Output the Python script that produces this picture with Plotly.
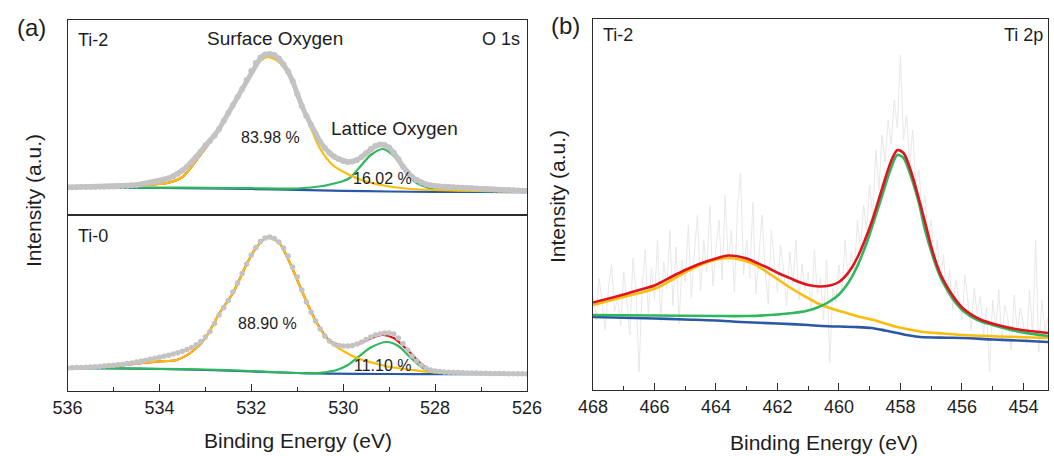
import plotly.graph_objects as go

# ---------------- Panel (a): O 1s ----------------
ENERGY_A = [round(536.0 - 0.1 * i, 1) for i in range(101)]

# Ti-2 raw data (a.u.)
RAW_TI2 = [27.7, 27.8, 27.8, 27.9, 28.0, 28.0, 28.1, 28.2, 28.3, 28.4,
           28.5, 28.7, 29.0, 29.3, 29.7, 30.1, 30.8, 31.6, 32.4, 33.2,
           34.0, 35.2, 36.8, 38.8, 41.3, 44.5, 48.3, 52.8, 57.8, 63.5,
           69.5, 74.0, 79.5, 86.0, 94.0, 102.0, 110.0, 118.0, 126.0, 135.0,
           144.0, 152.0, 157.5, 160.5, 161.0, 160.0, 156.5, 150.5, 143.5, 134.0,
           121.0, 109.0, 99.0, 90.0, 81.0, 73.0, 67.0, 62.0, 58.5, 56.0,
           54.0, 53.0, 53.5, 55.0, 58.0, 62.0, 66.0, 69.0, 70.5, 70.0,
           67.5, 62.5, 56.0, 48.5, 42.5, 38.0, 35.0, 32.5, 30.8, 29.8,
           29.0, 28.5, 28.2, 28.0, 27.8, 27.6, 27.3, 27.0, 26.7, 26.4,
           26.1, 25.9, 25.7, 25.5, 25.3, 25.1, 24.9, 24.7, 24.5, 24.3,
           24.1]

# Ti-0 raw data (a.u.)
RAW_TI0 = [23.0, 23.2, 23.4, 23.6, 23.8, 24.0, 24.3, 24.6, 25.0, 25.4,
           25.8, 26.3, 26.8, 27.4, 28.1, 28.9, 29.8, 30.8, 31.8, 32.8,
           33.8, 34.8, 35.8, 36.9, 38.2, 39.7, 41.5, 43.6, 46.2, 49.5,
           54.0, 59.5, 67.5, 76.0, 83.5, 90.5, 99.0, 108.0, 117.5, 127.0,
           136.0, 143.5, 149.5, 153.0, 154.0, 152.5, 149.0, 143.0, 135.0, 124.0,
           114.0, 101.0, 89.0, 79.0, 70.0, 62.0, 55.0, 50.0, 47.0, 45.5,
           45.0, 45.0, 45.5, 47.0, 49.0, 51.5, 54.0, 56.0, 57.0, 58.0,
           58.0, 57.0, 53.0, 47.5, 41.0, 35.0, 30.0, 26.0, 23.0, 21.0,
           20.0, 19.4, 19.0, 18.8, 18.6, 18.4, 18.2, 18.1, 18.0, 17.9,
           17.8, 17.7, 17.6, 17.5, 17.4, 17.4, 17.3, 17.3, 17.2, 17.2,
           17.1]

# Ti-2 fit curves
TI2_ENV_E = [536, 535, 534.5, 534, 533.78, 533.5, 533.06, 532.75, 532.5, 532.25, 532, 531.8,
             531.64, 531.4, 531.16, 531, 530.73, 530.5, 530.23, 530, 529.86, 529.6, 529.4,
             529.14, 528.9, 528.61, 528.4, 528.2, 528, 527.5, 527, 526]
TI2_ENV = [27.5, 28.0, 29.0, 31.0, 32.5, 38.0, 63.0, 82.0, 101, 120, 142, 155,
           159.5, 155, 139, 120, 92, 72, 58, 53.5, 52.5, 57, 64.5,
           70.5, 62, 43, 34.5, 31.5, 29.8, 28.5, 27, 25]
TI2_SURF_E = [536, 535, 534.5, 534, 533.78, 533.5, 533.06, 532.75, 532.5, 532.25, 532, 531.8,
              531.64, 531.4, 531.16, 531, 530.73, 530.51, 530.23, 529.86, 529.5, 529, 528.5,
              528, 527, 526]
TI2_SURF = [27.5, 28, 29, 31, 32.5, 38, 63, 82, 101, 120, 142, 154,
            158, 153, 137, 118, 90, 67, 50, 40, 33.5, 28.5, 26,
            25, 24, 23.5]
TI2_LATT_E = [536, 535, 534, 533, 532, 531, 530.44, 530.2, 530, 529.86, 529.6, 529.4, 529.14,
              528.9, 528.61, 528.4, 528.2, 528, 527.5, 527, 526]
TI2_LATT = [27.5, 27.5, 27.4, 27.2, 26.8, 26.5, 29, 31.5, 34, 37, 50, 60, 66,
            59, 41, 32, 28, 26, 24.5, 23.8, 23.2]
TI2_BG_E = [536, 535, 534, 533, 532, 531, 530, 529, 528, 527, 526]
TI2_BG = [27.3, 27.2, 27.0, 26.6, 26.0, 25.2, 24.2, 23.5, 23.1, 23.0, 22.9]

# Ti-0 fit curves
TI0_ENV_E = [536, 535, 534.37, 534, 533.63, 533.27, 533, 532.69, 532.4, 532.1, 531.9, 531.66,
             531.4, 531.16, 530.88, 530.58, 530.29, 530.1, 529.92, 529.7, 529.4, 529.16, 528.9,
             528.6, 528.3, 528.1, 527.8, 527, 526]
TI0_ENV = [23, 24.5, 28.0, 29.6, 31.0, 40.0, 53.0, 78, 98, 127, 143, 153.5,
           148.5, 128, 98, 68.5, 50, 46.5, 45, 46.5, 52.5, 56, 53,
           41, 27, 21, 18.5, 17.5, 17]
TI0_SURF_E = [536, 535, 534.37, 534, 533.63, 533.27, 533, 532.69, 532.4, 532.1, 531.9, 531.66,
              531.4, 531.16, 530.88, 530.58, 530.29, 530, 529.7, 529.3, 528.98, 528.5, 528.11,
              527.5, 526]
TI0_SURF = [23, 24.5, 28, 29.6, 31, 40, 53, 78, 98, 127, 143, 153.5,
            148.5, 128, 98, 68, 49, 40, 33, 27.5, 24, 21, 19,
            17.8, 17]
TI0_LATT_E = [536, 535, 534, 533, 532, 531.5, 531, 530.6, 530.3, 530.14, 529.9, 529.7, 529.4,
              529.05, 528.8, 528.55, 528.3, 528.11, 527.8, 527, 526]
TI0_LATT = [23, 22.8, 22.2, 21.5, 20, 18.8, 18, 17.8, 19.5, 21, 26, 33, 43.5,
            49, 45, 34, 24, 19, 17.6, 17.1, 16.9]
TI0_BG_E = [536, 535, 534, 533, 532, 531, 530.3, 529, 528, 526]
TI0_BG = [22.8, 22.5, 22.0, 21.0, 19.5, 18.0, 17.3, 17.0, 16.9, 16.8]

# ---------------- Panel (b): Ti 2p ----------------
ENERGY_B = [round(468.0 - 0.1 * i, 1) for i in range(149)]
RAW_TI2P = [95, 70, 112, 84, 60, 101, 126, 78, 92, 64,
            118, 89, 55, 132, 97, 18, 104, 140, 76, 122,
            90, 150, 68, 128, 101, 160, 84, 143, 66, 130,
            108, 165, 92, 138, 175, 99, 150, 118, 185, 104,
            142, 170, 110, 195, 128, 160, 98, 182, 217, 115,
            150, 112, 188, 96, 140, 175, 120, 86, 160, 132,
            98, 145, 120, 84, 138, 106, 150, 90, 126, 100,
            118, 80, 140, 96, 112, 70, 130, 27, 102, 88,
            125, 96, 150, 110, 138, 118, 170, 140, 185, 160,
            205, 172, 240, 200, 255, 228, 270, 246, 290, 262,
            335, 250, 275, 225, 260, 205, 220, 180, 195, 150,
            170, 125, 150, 108, 135, 95, 120, 80, 110, 92,
            70, 115, 88, 60, 102, 76, 94, 55, 83, 18,
            90, 62, 100, 48, 85, 70, 40, 95, 58, 82,
            66, 45, 100, 55, 150, 38, 90, 60, 72]

TI2P_ENV_E = [468, 467, 466.5, 466, 465.4, 465, 464.5, 464, 463.6, 463, 462.7, 462.3, 461.95,
              461.6, 461.3, 461.0, 460.65, 460.3, 460, 459.8, 459.6, 459.4, 459.2, 458.94,
              458.65, 458.49, 458.3, 458.1, 457.9, 457.64, 457.4, 457.16, 456.95, 456.7, 456.4,
              455.96, 455.4, 454.9, 454.34, 453.8, 453.2]
TI2P_ENV = [87.5, 95.5, 100, 104.5, 114, 120, 126.5, 131.5, 134.5, 131.5, 127.5, 122, 116.5,
            112, 108, 105, 103.5, 104.5, 108, 113.5, 121.5, 132.5, 146.5, 167.5,
            196, 212, 229, 240, 237, 217, 191, 163, 138, 116, 99,
            81.5, 70.5, 65.5, 61.5, 59, 57]
TI2P_32_E = [468, 467, 465.93, 464.86, 464.2, 463.63, 463.1, 462.7, 462.2, 461.62, 461.1, 460.65,
             460.2, 459.75, 459.3, 458.87, 458.5, 458.1, 457.7, 457.25, 456.6, 455.96, 455, 454,
             453.2]
TI2P_32 = [85, 93, 102, 120, 128.5, 132, 129.5, 125, 115, 103, 93.5, 86,
           81, 77, 73, 70, 66.5, 63, 60.5, 58, 56.5, 55, 53.8, 52.8,
           52]
TI2P_12_E = [468, 466, 464, 463, 462, 461.5, 461.07, 460.7, 460.33, 460, 459.7, 459.4, 459.1,
             458.85, 458.6, 458.35, 458.1, 457.9, 457.64, 457.4, 457.2, 456.95, 456.7, 456.4,
             456.2, 455.96, 455.5, 455, 454.6, 454, 453.2]
TI2P_12 = [75, 74.5, 74, 74, 75.5, 77, 79, 82.5, 88, 95.5, 107, 124, 147,
           170, 194, 218, 235, 232, 212, 187, 160, 134, 113, 96,
           87, 79, 70, 65, 61.5, 57.5, 54]
TI2P_BG_E = [468, 466, 465, 464, 463.2, 462, 461, 460.56, 459.5, 458.94, 458.5, 458.1, 457.7,
             457.35, 456.5, 455.96, 455, 454, 453.2]
TI2P_BG = [73, 71.5, 70.5, 69.5, 68, 66.5, 65, 64, 63, 62, 59.5, 57, 54.5,
           53, 52.3, 52, 50.5, 49.2, 48]

# ---------------- styles ----------------
RED = "#e0141c"
YELLOW = "#fbbd0c"
GREEN = "#30b75e"
BLUE = "#2a58a6"
GRAY = "#c3c3c3"
NOISE = "#e8e8e8"
FONT = "Arial, Liberation Sans, sans-serif"
INK = "#1e1e1e"

fig = go.Figure()


def fit(x, y, color, xa, ya, width=2.2):
    fig.add_trace(go.Scatter(x=x, y=y, mode="lines", xaxis=xa, yaxis=ya,
                             line=dict(color=color, width=width, shape="spline", smoothing=0.8),
                             hoverinfo="skip", showlegend=False))


# Ti-2 (a, top)
fit(TI2_BG_E, TI2_BG, BLUE, "x", "y")
fit(TI2_ENV_E, TI2_ENV, RED, "x", "y")
fit(TI2_LATT_E, TI2_LATT, GREEN, "x", "y")
fit(TI2_SURF_E, TI2_SURF, YELLOW, "x", "y")
fig.add_trace(go.Scatter(x=ENERGY_A, y=RAW_TI2, mode="lines+markers", xaxis="x", yaxis="y",
                         line=dict(color=GRAY, width=5),
                         marker=dict(color=GRAY, size=6), showlegend=False, hoverinfo="skip"))

# Ti-0 (a, bottom)
fit(TI0_BG_E, TI0_BG, BLUE, "x2", "y2")
fit(TI0_ENV_E, TI0_ENV, RED, "x2", "y2")
fit(TI0_LATT_E, TI0_LATT, GREEN, "x2", "y2")
fit(TI0_SURF_E, TI0_SURF, YELLOW, "x2", "y2")
fig.add_trace(go.Scatter(x=ENERGY_A, y=RAW_TI0, mode="markers", xaxis="x2", yaxis="y2",
                         marker=dict(color=GRAY, size=5.5), showlegend=False, hoverinfo="skip"))

# Ti 2p (b)
fig.add_trace(go.Scatter(x=ENERGY_B, y=RAW_TI2P, mode="lines", xaxis="x3", yaxis="y3",
                         line=dict(color=NOISE, width=1), showlegend=False, hoverinfo="skip"))
fit(TI2P_BG_E, TI2P_BG, BLUE, "x3", "y3", 2.6)
fit(TI2P_32_E, TI2P_32, YELLOW, "x3", "y3", 2.6)
fit(TI2P_12_E, TI2P_12, GREEN, "x3", "y3", 2.6)
fit(TI2P_ENV_E, TI2P_ENV, RED, "x3", "y3", 2.6)

W, H = 1054, 456


def px(x):
    return x / W


def py(y):
    return 1 - y / H


axis_common = dict(showline=True, linecolor="#2b2b2b", linewidth=1.3, mirror=True,
                   showgrid=False, zeroline=False, automargin=False)
xtick = dict(ticks="inside", ticklen=7, tickwidth=1.3, tickcolor="#2b2b2b", dtick=2,
             tickfont=dict(family=FONT, size=18, color=INK),
             minor=dict(ticks="inside", ticklen=4, tickwidth=1.3, dtick=1, tickcolor="#2b2b2b"))

fig.update_layout(
    width=W, height=H, autosize=False,
    margin=dict(l=0, r=0, t=0, b=0, pad=0, autoexpand=False),
    paper_bgcolor="white", plot_bgcolor="white", showlegend=False,
    font=dict(family=FONT, color=INK),
    xaxis=dict(domain=[px(67.5), px(527)], range=[536, 526], anchor="y",
               showticklabels=False, ticks="", **axis_common),
    yaxis=dict(domain=[py(215), py(20)], range=[0, 195], anchor="x",
               showticklabels=False, ticks="", **axis_common),
    xaxis2=dict(domain=[px(67.5), px(527)], range=[536, 526], anchor="y2",
                tick0=526, **xtick, **axis_common),
    yaxis2=dict(domain=[py(391), py(215)], range=[0, 176], anchor="x2",
                showticklabels=False, ticks="", **axis_common),
    xaxis3=dict(domain=[px(593), px(1048)], range=[468, 453.2], anchor="y3",
                tick0=454, **xtick, **axis_common),
    yaxis3=dict(domain=[py(390), py(19)], range=[0, 371], anchor="x3",
                showticklabels=False, ticks="", **axis_common),
)


def label(text, x, y, size, xanchor="center", angle=0):
    fig.add_annotation(text=text, x=px(x), y=py(y), xref="paper", yref="paper",
                       xanchor=xanchor, yanchor="middle", showarrow=False, textangle=angle,
                       font=dict(family=FONT, size=size, color=INK))


label("(a)", 31, 27, 24)
label("(b)", 565, 25, 24)
label("Ti-2", 76, 40, 18, "left")
label("Surface Oxygen", 274.5, 39, 19)
label("O 1s", 522, 39, 18, "right")
label("83.98 %", 270, 138, 16)
label("Lattice Oxygen", 394.5, 128, 19)
label("16.02 %", 382.5, 178, 16)
label("Ti-0", 76, 236, 18, "left")
label("88.90 %", 267.5, 323, 16)
label("11.10 %", 383, 365, 16)
label("Ti-2", 601, 35, 18, "left")
label("Ti 2p", 1045, 35, 18, "right")
label("Binding Energy (eV)", 297.5, 440, 21)
label("Binding Energy (eV)", 824, 442, 21)
label("Intensity (a.u.)", 33, 201, 21, angle=-90)
label("Intensity (a.u.)", 557, 197, 21, angle=-90)

fig.write_html("out.html", config={"displayModeBar": False, "responsive": False},
               post_script="document.body.style.margin='0';document.body.style.overflow='hidden';")
